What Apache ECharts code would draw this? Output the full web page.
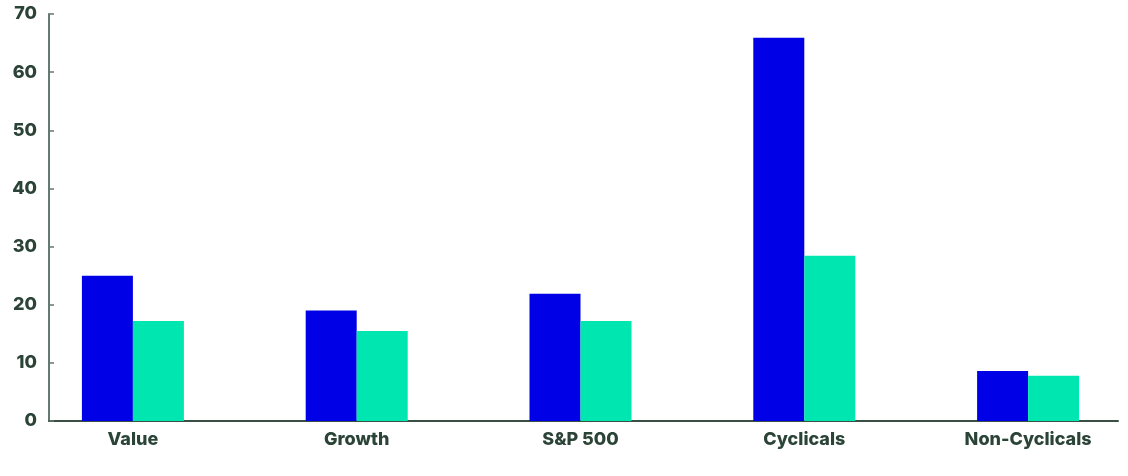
<!DOCTYPE html>
<html>
<head>
<meta charset="utf-8">
<script src="https://cdn.jsdelivr.net/npm/echarts@6/dist/echarts.min.js"></script>
<style>html,body{margin:0;padding:0;background:#fff}#c{width:1128px;height:476px}</style>
</head>
<body>
<div id="c"></div>
<script>
const categories = ['Value', 'Growth', 'S&P 500', 'Cyclicals', 'Non-Cyclicals'];
const seriesA = [25, 19, 21.9, 65.9, 8.6];
const seriesB = [17.2, 15.5, 17.2, 28.4, 7.8];
const yMin = 0, yMax = 70, yStep = 10;

const labelColor = '#2b4437';
const chart = echarts.init(document.getElementById('c'));
chart.setOption({
  animation: false,
  grid: [
    {left: 21, width: 1119, top: 14, bottom: 55, outerBoundsMode: 'none', containLabel: false},
    {left: 49, right: 10, top: 14, bottom: 55, outerBoundsMode: 'none', containLabel: false}
  ],
  xAxis: [
    {type: 'category', gridIndex: 0, data: categories,
     axisLine: {show: false}, axisTick: {show: false},
     axisLabel: {color: labelColor, fontFamily: 'Inter', fontWeight: 800, fontSize: 18, margin: 10}},
    {type: 'value', gridIndex: 1, min: 0, max: 1,
     axisLine: {show: true, lineStyle: {color: '#3b5045', width: 2}},
     axisTick: {show: false}, axisLabel: {show: false}, splitLine: {show: false}}
  ],
  yAxis: [
    {type: 'value', gridIndex: 0, min: yMin, max: yMax, interval: yStep, offset: -28,
     axisLine: {show: true, lineStyle: {color: '#647a70', width: 2}},
     axisTick: {show: true, inside: true, length: 5, lineStyle: {color: '#647a70', width: 1.5}},
     splitLine: {show: false},
     axisLabel: {color: labelColor, fontFamily: 'Inter', fontWeight: 800, fontSize: 18, margin: 12}},
    {type: 'value', gridIndex: 1, min: yMin, max: yMax, show: false}
  ],
  series: [
    {type: 'bar', xAxisIndex: 0, yAxisIndex: 0, data: seriesA, barWidth: 51, barGap: '0%',
     itemStyle: {color: '#0000e6'}},
    {type: 'bar', xAxisIndex: 0, yAxisIndex: 0, data: seriesB, barWidth: 51, barGap: '0%',
     itemStyle: {color: '#00e6b0'}}
  ]
});
</script>
</body>
</html>
